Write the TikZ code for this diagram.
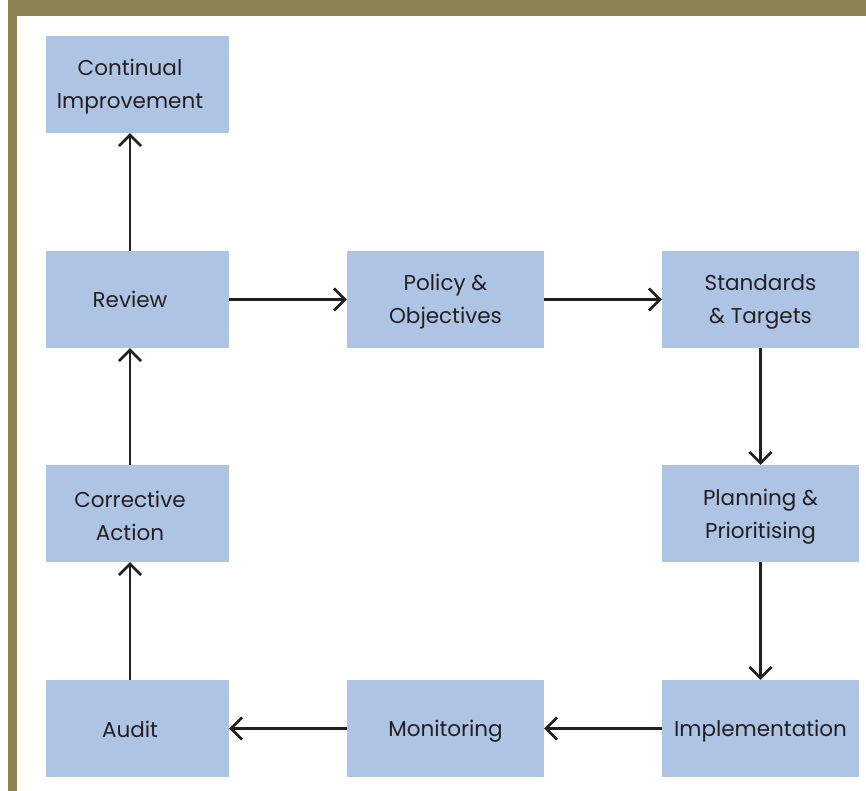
\documentclass[tikz,border=0pt]{standalone}
\usepackage{fontspec}
\setmainfont{Poppins}
\usetikzlibrary{arrows.meta}
\definecolor{boxblue}{HTML}{AEC4E4}
\definecolor{olive}{HTML}{8B8352}
\definecolor{ink}{HTML}{231F20}
\begin{document}
\begin{tikzpicture}[x=1pt,y=-1pt,
  box/.style={fill=boxblue, draw=none, minimum width=183pt, minimum height=97pt,
    inner sep=0pt},
  widebox/.style={box, minimum width=197pt},
  txt/.style={align=center, text=ink, inner sep=0pt,
    font=\fontsize{21.5}{33}\selectfont},
  flow/.style={draw=ink, line width=2.6pt,
    -{Straight Barb[length=11pt,width=22pt,line width=2.6pt]}}]
  % page and frame
  \useasboundingbox (0,0) rectangle (866,791);
  \fill[white] (0,0) rectangle (866,791);
  \fill[olive] (8,0) rectangle (866,16);
  \fill[olive] (8,0) rectangle (17,791);
  % left column: boxes with text set slightly left of centre
  \node[box] (ci)  at (137.5,84.5)  {};
  \node[box] (rev) at (137.5,299.5) {};
  \node[box] (ca)  at (137.5,513.5) {};
  \node[box] (aud) at (137.5,728.5) {};
  \node[txt] (citxt)  at (130,86.5)  {Continual\\Improvement};
  \node[txt] (revtxt) at (130,299.5) {Review};
  \node[txt] (catxt)  at (130,516)   {Corrective\\Action};
  \node[txt] (audtxt) at (130,729.5) {Audit};
  % middle and right columns
  \node[widebox] (pol)  at (445.5,299.5) {};
  \node[widebox] (std)  at (760.5,299.5) {};
  \node[widebox] (plan) at (760.5,513.5) {};
  \node[widebox] (mon)  at (445.5,728.5) {};
  \node[widebox] (imp)  at (760.5,728.5) {};
  \node[txt] (poltxt)  at (445.5,302) {Policy \&\\Objectives};
  \node[txt] (stdtxt)  at (760.5,302) {Standards\\\& Targets};
  \node[txt] (plantxt) at (760.5,516.5) {Planning \&\\Prioritising};
  \node[txt] (montxt)  at (445.5,731.5) {Monitoring};
  \node[txt] (imptxt)  at (760.5,731.5) {Implementation};
  % cycle
  \draw[flow] (rev) -- (pol);
  \draw[flow] (pol) -- (std);
  \draw[flow] (std) -- (plan);
  \draw[flow] (plan) -- (imp);
  \draw[flow] (imp) -- (mon);
  \draw[flow] (mon) -- (aud);
  \draw[flow] ([xshift=-7.5pt]aud.north) -- ([xshift=-7.5pt]ca.south);
  \draw[flow] ([xshift=-7.5pt]ca.north) -- ([xshift=-7.5pt]rev.south);
  \draw[flow] ([xshift=-7.5pt]rev.north) -- ([xshift=-7.5pt]ci.south);
\end{tikzpicture}
\end{document}
